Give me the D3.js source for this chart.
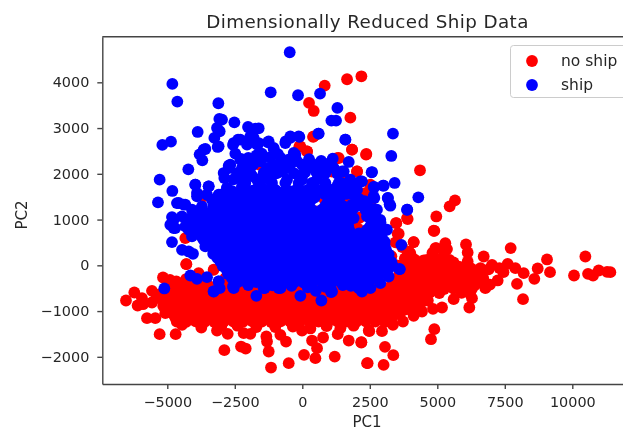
<!DOCTYPE html>
<html lang="en">
<head>
<meta charset="utf-8" />
<title>Dimensionally Reduced Ship Data</title>
<script src="https://d3js.org/d3.v7.min.js"></script>
<style>
html, body { margin: 0; padding: 0; background: #fff; overflow: hidden; }
svg { display: block; font-family: 'DejaVu Sans', sans-serif; filter: blur(0.4px); }
.axis path, .axis line { stroke: #444; stroke-width: 1.4; }
.axis text { font-size: 14.4px; fill: #262626; }
</style>
</head>
<body>
<svg width="623" height="430"></svg>
<script>
// values, [PC1, PC2]
const xTicks = [-5000, -2500, 0, 2500, 5000, 7500, 10000];
const yTicks = [-2000, -1000, 0, 1000, 2000, 3000, 4000];
const seriesNames = ['no ship', 'ship'];
const seriesColors = ['#ff0000', '#0000ff'];

const noShipScattered = [
  [830,3928],[1658,4067],[2189,4132],[250,3549],[423,3374],[1781,3228],[398,2806],[-108,2601],[176,2492],[1843,2529],
  [2362,2419],[1349,2346],[768,2179],[2028,2055],[2399,1581],[4359,2077],[5655,1421],[5458,1289],[4964,1068],[3902,1010],
  [3482,922],[4890,755],[3531,689],[4124,507],[5297,485],[4964,376],[5359,354],[6063,456],[6125,281],[6125,84],
  [7718,376],[6718,193],[9064,128],[10484,193],[7026,11],[7607,33],[7891,-62],[8718,-69],[9175,-149],[10064,-222],
  [10583,-186],[10768,-222],[10978,-113],[11287,-142],[11410,-149],[8200,-171],[8595,-295],[7952,-404],[7236,-331],[8175,-740],
  [6779,-499],[6347,-149],[6285,-718],[6186,-922],[5606,-740],[5174,-922],[4840,-951],[4890,-1396],[4766,-1615],[4433,-1009],
  [4124,-1104],[3729,-1228],[3358,-1301],[2951,-1440],[2481,-1440],[2185,-1687],[3062,-1782],[3371,-1964],[2420,-2139],[3012,-2176],
  [6900,-90],[7300,-60],[7450,-150],[6700,-280],[6950,-420],[6600,-60]
];
const noShipLeft = [
  [-6530,-769],[-6221,-594],[-6098,-878],[-5567,-557],[-5567,-813],[-5937,-718],[-5159,-266],[-4665,-353],[-4295,26],[-5752,-1155],
  [-5443,-1155],[-5283,-1505],[-4690,-1505],[-5073,-1046],[-4455,-1301],[-3739,-1359],[-3158,-1425],[-2763,-1498],[-2887,-1855],[-2269,-1775],
  [-2096,-1819],[-2170,-1483],[-1924,-1498],[-1331,-1556],[-1244,-1884],[-1306,-1666],[-1158,-2234],[-503,-2139],[-602,-1666],[-812,-1520],
  [-10,-1425],[65,-1957],[485,-2030],[547,-1811],[361,-1644],[769,-1578],[1201,-1994],[1312,-1505],[1411,-1374],[1720,-1644],
  [2189,-1680],[2399,-2139],[2461,-1425],[-5900,-850],[-5300,-640],[-4900,-320],[-3000,-1330],[-2400,-1320],[-1700,-1350],[-1000,-1350],
  [-350,-1340],[300,-1380],[900,-1330],[1900,-1320]
];
const noShipBand = [
  [-4900,-450],[-4560,-470],[-4200,-440],[-3850,-460],[-3500,-430],[-3150,-450],[-2800,-440],[-2450,-460],[-2100,-450],[-1750,-440],
  [-1400,-460],[-1050,-450],[-700,-440],[-350,-460],[0,-450],[350,-440],[700,-460],[1050,-450],[1400,-440],[1750,-450],
  [2100,-460],[2450,-440],[2800,-420],[-5250,-630],[-4900,-620],[-4550,-640],[-4200,-610],[-3850,-630],[-3500,-620],[-3150,-640],
  [-2800,-620],[-2450,-630],[-2100,-610],[-1750,-640],[-1400,-620],[-1050,-630],[-700,-610],[-350,-640],[0,-620],[350,-630],
  [700,-610],[1050,-640],[1400,-620],[1750,-630],[2100,-610],[2450,-640],[2800,-620],[3150,-600],[-5100,-800],[-4730,-810],
  [-4380,-790],[-4030,-800],[-3680,-810],[-3330,-790],[-2980,-800],[-2630,-810],[-2280,-790],[-1930,-800],[-1580,-810],[-1230,-790],
  [-880,-800],[-530,-810],[-180,-790],[170,-800],[520,-810],[870,-790],[1220,-800],[1570,-810],[1920,-790],[2270,-800],
  [2620,-810],[2970,-790],[3320,-800],[3670,-790],[-4950,-980],[-4600,-970],[-4250,-990],[-3900,-960],[-3550,-980],[-3200,-970],
  [-2850,-990],[-2500,-960],[-2150,-980],[-1800,-970],[-1450,-990],[-1100,-960],[-750,-980],[-400,-970],[-50,-990],[300,-960],
  [650,-980],[1000,-970],[1350,-990],[1700,-960],[2050,-980],[2400,-970],[2750,-990],[3100,-960],[3450,-980],[3800,-970],
  [-4700,-1150],[-4350,-1160],[-4000,-1140],[-3650,-1170],[-3300,-1150],[-2950,-1160],[-2600,-1140],[-2250,-1170],[-1900,-1150],[-1550,-1160],
  [-1200,-1140],[-850,-1170],[-500,-1150],[-150,-1160],[200,-1140],[550,-1170],[900,-1150],[1250,-1160],[1600,-1140],[1950,-1170],
  [2300,-1150],[2650,-1160],[3000,-1140],[3350,-1120],
  [-5075,-540],[-4725,-545],[-4375,-535],[-4025,-540],[-3675,-550],[-3325,-535],[-2975,-540],[-2625,-545],[-2275,-535],[-1925,-540],
  [-1575,-550],[-1225,-535],[-875,-540],[-525,-545],[-175,-535],[175,-540],[525,-550],[875,-535],[1225,-540],[1575,-545],
  [1925,-535],[2275,-540],[2625,-550],[2975,-535],[-5400,-715],[-5025,-710],[-4725,-720],[-4375,-715],[-4025,-710],[-3675,-720],
  [-3325,-715],[-2975,-710],[-2625,-720],[-2275,-715],[-1925,-710],[-1575,-720],[-1225,-715],[-875,-710],[-525,-720],[-175,-715],
  [175,-710],[525,-720],[875,-715],[1225,-710],[1575,-720],[1925,-715],[2275,-710],[2625,-720],[2975,-715],[3325,-710],
  [-5150,-890],[-4775,-885],[-4425,-895],[-4075,-890],[-3725,-885],[-3375,-895],[-3025,-890],[-2675,-885],[-2325,-895],[-1975,-890],
  [-1625,-885],[-1275,-895],[-925,-890],[-575,-885],[-225,-895],[125,-890],[475,-885],[825,-895],[1175,-890],[1525,-885],
  [1875,-895],[2225,-890],[2575,-885],[2925,-895],[3275,-890],[3625,-885],[-4775,-1065],[-4425,-1060],[-4075,-1070],[-3725,-1065],
  [-3375,-1060],[-3025,-1070],[-2675,-1065],[-2325,-1060],[-1975,-1070],[-1625,-1065],[-1275,-1060],[-925,-1070],[-575,-1065],[-225,-1060],
  [125,-1070],[475,-1065],[825,-1060],[1175,-1070],[1525,-1065],[1875,-1060],[2225,-1070],[2575,-1065],[2925,-1060],[3275,-1070],
  [3600,-1060],[-4650,-1230],[-4300,-1235],[-3950,-1225],[-3600,-1230],[-3250,-1240],[-2900,-1225],[-2550,-1230],[-2200,-1235],[-1850,-1225],
  [-1500,-1230],[-1150,-1240],[-800,-1225],[-450,-1230],[-100,-1235],[250,-1225],[600,-1230],[950,-1240],[1300,-1225],[1650,-1230],
  [2000,-1235],[2350,-1225],[2700,-1230],[3050,-1240]
];
const noShipRight = [
  [3950,300],[4000,266],[4820,270],[5250,290],[3800,150],[4150,130],[4500,110],[4620,120],[4950,150],[5250,140],
  [5450,120],[3720,10],[4050,-10],[4400,20],[4750,-5],[5100,10],[5450,-10],[5800,-30],[3600,-175],[3950,-170],
  [4300,-180],[4650,-165],[5000,-175],[5350,-180],[5700,-170],[6050,-150],[3400,-350],[3750,-340],[4100,-360],[4450,-345],
  [4800,-350],[5150,-340],[5500,-355],[5850,-345],[6200,-350],[6500,-360],[3500,-520],[3850,-530],[4200,-515],[4550,-525],
  [4900,-535],[5250,-520],[5600,-510],[5950,-530],[6280,-520],[3500,-670],[3850,-690],[4200,-680],[4550,-670],[3400,-840],
  [3750,-850],[4100,-830],[4400,-820],[3100,-1060],[3650,-1020],[4000,-960],
  [3850,75],[4250,80],[4600,70],[4950,75],[5300,80],[5600,65],[3800,-85],[4125,-80],[4475,-90],[4825,-85],
  [5175,-80],[5525,-90],[5875,-85],[6250,-70],[3550,-260],[3900,-255],[4225,-265],[4575,-260],[4925,-255],[5275,-265],
  [5625,-260],[5975,-255],[6350,-265],[6600,-220],[3300,-435],[3650,-430],[3975,-440],[4325,-435],[4675,-430],[5025,-440],
  [5375,-435],[5725,-430],[6050,-440],[6380,-435],[3350,-600],[3675,-600],[4025,-605],[4375,-600],[4725,-595],[5075,-605],
  [5900,-600],[6200,-610],[3300,-780],[3650,-775],[4000,-785],[4350,-780],[4650,-770],[3250,-950],[3600,-945],[3950,-955],
  [4250,-950]
];
const noShipBehind = [
  [3472,924],[3879,1033],[3571,690],[4126,508],[4867,756],[4929,377],[3903,231],[4188,-2],[-4296,27],[422,2819],
  [174,2491],[1842,2528],[2373,2433],[-72,2600],[792,2200],[1286,2345],[2027,2054],[2336,1580],[2521,1762],[2521,1325],
  [1965,851],[2120,1040],[2060,800],[1780,1142],[1595,1398],[792,1470],[508,1179],[-3654,1507],[-2296,1616],[-3160,377],[-4333,595],[-3963,814],
  [-3284,-97],[-2851,-279],[-3839,-170],[-3183,354],[-3600,-300],[-4300,-300],[1500,2000],[1100,2050],[2450,1550],[2700,1100],
  [3000,400],[3300,200],[3500,0],[3700,400],[3450,500],[-1600,2200]
];

const shipScattered = [
  [-466,4657],[-4813,3965],[-4628,3578],[-3109,3542],[-1170,3782],[-158,3717],[658,3753],[1300,3440],[1077,3163],[1250,3163],
  [596,2879],[1596,2747],[-2973,3185],[-3072,3200],[-2516,3126],[-3159,3002],[-3875,2915],[-3060,2930],[-3257,2784],[-5184,2631],
  [-4863,2703],[-3134,2587],[-3591,2543],[-3801,2426],[-3702,2295],[-4221,2098],[-5283,1873],[-4813,1625],[-5345,1377],[-2010,3024],
  [-1738,2988],[-1615,2995],[-2380,2747],[-2566,2631],[-2047,2638],[-1677,2638],[-1800,2784],[-1269,2689],[-1059,2543],[-614,2711],
  [-442,2784],[-108,2806],[-318,2456],[-2270,2324],[-2726,2179],[-2887,1909],[-2788,1690],[-2232,2128],[-1578,2288],[-1825,2200],
  [-1059,2200],[-442,2200],[52,2200],[361,2222],[1127,2332],[1720,2259],[-3961,1763],[-3467,1727],[-3900,1508],[-4579,1362],
  [-4332,1326],[3358,2879],[3297,2390],[2568,2033],[3420,1800],[2988,1741],[2642,1712],[2642,1508],[4297,1486],[3173,1471],
  [3235,1333],[3889,1216],[2765,1216],[2210,1836],[-5110,-506],[-4147,-222],[-3900,-295],[-3529,-259],[-3097,-353],[-3282,-572],
  [-3060,-499],[-4826,1054],[-4764,813],[-4888,886],[-4826,507],[-4455,339],[-4048,252],[-4208,303],[3667,448],[3605,-84],
  [3198,-244],[2889,-390],[2519,-499],[2210,-572],[-2541,-499],[-1701,-667],[-1430,-499],[-812,-499],[-71,-667],[707,-769],
  [1102,-572],[2090,-499],[-4642,1361],[-4395,1325],[-4086,1215],[-4765,997],[-4704,814],[-4272,997],[-4210,778],[-3716,1288],
  [-3531,1543],[-3345,1434],[-3098,1543],[-3963,1762],[-3469,1726],[-3901,1580],[-2913,1288],[-3284,-571],[-3098,-352],[-2567,-461],
  [-1394,-498],[-875,-498],[1064,-585],[3608,-82],[3879,1215],[3262,1303],[3163,1470],[2669,1470],[3015,1740],[2669,1711],
  [2583,2039],[1595,2746],[607,2878],[1533,2054],[854,2017],[2150,1835],[1904,1543],[1904,1033],[3136,777],[2889,995]
];
const shipUpper = [
  [-2913,2017],[-2666,2200],[-2296,2309],[-1826,2200],[-1555,2272],[-752,2054],[-11,2200],[1163,2127],[1471,2054],[1842,1580],
  [1286,1726],[545,1872],[-11,1872],[-566,1872],[-1184,1872],[-1678,1872],[-2234,1726],[-2790,1689],[-3037,1543],[-2100,2000],
  [-1400,2020],[-1020,2000],[-300,2010],[100,2030],[500,2060],[-2200,1650],[-1800,1640],[-1400,1660],[-1000,1650],[-600,1640],
  [-200,1660],[200,1650],[600,1640],[1000,1660],[1450,1800],[1700,1750],[2300,1400],[-2700,1480],[-2350,1470],[-2000,1490],
  [-1650,1480],[-1300,1470],[-950,1490],[-600,1480],[-250,1470],[100,1490],[450,1480],[1100,1470],[1400,1490],
  [-2500,1400],[-2150,1395],[-1800,1405],[-1450,1400],[-1100,1395],[-750,1405],[-400,1400],[-50,1395],[300,1405],[950,1400],
  [1250,1395],[-2400,1560],[-1600,1565],[-1200,1555],[-800,1560],[-400,1565],[0,1555],[400,1560],[800,1565],[1200,1555],
  [1650,1560]
];
const shipUpperDense = [
  [-2543,2673],[-2296,2746],[-1925,2819],[-1616,2673],[-1246,2710],[-1060,2564],[-628,2673],[-443,2819],[-134,2819],[-258,2418],
  [-505,2309],[-3098,2600],[-3654,2528],[-2419,2017],[-1925,2017],[-1431,2017],[-937,2017],[51,2017],[545,2017],[-2728,2127],
  [-2110,2127],[-1308,2127],[-566,2127],[175,2127],[669,2127],[-2110,1799],[-1616,1799],[-1122,1799],[-628,1799],[-134,1799],
  [360,1799],[854,1799],[1348,1799],[1842,1799],[-2789,1616],[-1925,1616],[-1431,1616],[-937,1616],[-443,1616],[51,1616],
  [545,1616],[1039,1616],[1533,1616],[-1200,2360],[-800,2350],[-1500,2440],[-900,2430],[-2000,2350],[-1700,2400],[-2480,2440],
  [-700,2240],[-200,2280],[250,2320],[700,2280],[900,2210],[1300,2000],[1780,1871],[1533,1762],[2027,1653],[1657,1580],
  [1224,1434],[1286,1288],[1842,1325],[-3284,1330],[-3000,1400],[-2600,1620],[-2550,1880],[-2200,1880],[-1850,1950],[-1400,1900]
];
const shipCore = [
  [-2950,1300],[-2600,1290],[-2250,1310],[-1900,1300],[-1550,1290],[-1200,1310],[-850,1300],[-500,1290],[-150,1310],[200,1290],
  [850,1300],[1200,1310],[1550,1180],[1850,1290],[-3500,1130],[-3150,1120],[-2800,1140],[-2450,1125],[-2100,1115],[-1750,1135],
  [-1400,1125],[-1050,1115],[-700,1135],[-350,1125],[0,1115],[350,1030],[700,1125],[1050,1115],[1400,1135],[1750,1000],
  [2500,1050],[2700,1150],[-4100,950],[-3750,940],[-3400,960],[-3050,950],[-2700,940],[-2350,960],[-2000,950],[-1650,940],
  [-1300,960],[-950,950],[-600,940],[-250,960],[100,950],[450,940],[800,960],[1150,950],[1500,940],[2650,900],
  [2900,930],[-4050,780],[-3700,770],[-3350,790],[-3000,775],[-2650,765],[-2300,785],[-1950,775],[-1600,765],[-1250,785],
  [-900,775],[-550,765],[-200,785],[150,775],[500,765],[850,785],[1200,775],[1550,765],[2400,780],[2750,770],
  [3000,780],[-3700,600],[-3350,590],[-3000,610],[-2650,600],[-2300,590],[-1950,610],[-1600,600],[-1250,590],[-900,610],
  [-550,600],[-200,590],[150,610],[500,600],[850,590],[1200,610],[1550,600],[1900,600],[2250,610],[2600,595],
  [2950,600],[-3400,425],[-3050,440],[-2700,415],[-2350,430],[-2000,420],[-1650,440],[-1300,425],[-950,415],[-600,435],
  [-250,425],[100,415],[450,435],[800,425],[1150,415],[1500,435],[1850,425],[2200,415],[2550,435],[2900,425],
  [3050,430],[-3300,250],[-2950,240],[-2600,260],[-2250,250],[-1900,240],[-1550,260],[-1200,250],[-850,240],[-500,260],
  [-150,250],[200,240],[550,260],[900,250],[1250,240],[1600,260],[1950,250],[2300,240],[2650,260],[3000,250],
  [3200,240],[-3000,75],[-2650,85],[-2300,65],[-1950,80],[-1600,70],[-1250,90],[-900,75],[-550,65],[-200,85],
  [150,75],[500,65],[850,85],[1200,75],[1550,65],[1900,85],[2250,75],[2600,65],[2950,85],[3300,75],
  [-2800,-100],[-2450,-110],[-2100,-90],[-1750,-105],[-1400,-115],[-1050,-95],[-700,-100],[-350,-110],[0,-90],[350,-105],
  [700,-115],[1050,-95],[1400,-100],[1750,-110],[2100,-90],[2450,-105],[2800,-115],[3150,-95],[-2600,-280],[-2250,-270],
  [-1900,-290],[-1550,-280],[-1200,-270],[-850,-290],[-500,-280],[-150,-270],[200,-290],[550,-280],[900,-270],[1250,-290],
  [1600,-280],[1950,-270],[2300,-290],[2650,-280],[-2000,-430],[-1100,-440],[-400,-450],[200,-480],[500,-560],[850,-470],
  [1500,-430],[1800,-450],[2450,-380]
];
const shipCoreMid = [
  [-3325,1210],[-2775,1205],[-2425,1215],[-2075,1210],[-1725,1205],[-1375,1215],[-1025,1210],[-675,1205],[-325,1215],[25,1210],
  [375,1205],[725,1215],[1025,1210],[1375,1205],[1700,1215],[-3900,1040],[-3575,1045],[-3225,1035],[-2875,1040],[-2525,1045],
  [-2175,1035],[-1825,1040],[-1475,1045],[-1125,1035],[-775,1040],[-425,1045],[-75,1035],[275,1040],[625,1045],[975,1035],
  [1325,1040],[1650,1045],[2700,1035],[-3875,860],[-3525,865],[-3175,855],[-2825,860],[-2475,865],[-2125,855],[-1775,860],
  [-1425,865],[-1075,855],[-725,860],[-375,865],[-25,855],[325,860],[675,865],[1025,855],[1375,860],[1700,865],
  [2525,855],[2875,860],[-3525,690],[-3175,695],[-2825,685],[-2475,690],[-2125,695],[-1775,685],[-1425,690],[-1075,695],
  [-725,685],[-375,690],[-25,695],[325,685],[675,690],[1025,695],[1375,685],[1725,690],[2100,695],[2475,685],
  [2825,690],[-3550,510],[-3200,515],[-2850,505],[-2500,510],[-2150,515],[-1800,505],[-1450,510],[-1100,515],[-750,505],
  [-400,510],[-50,515],[300,505],[650,510],[1000,515],[1350,505],[1700,510],[2050,515],[2400,505],[2750,510],
  [3050,515],[-3150,340],[-2800,335],[-2450,345],[-2100,340],[-1750,335],[-1400,345],[-1050,340],[-700,335],[-350,345],
  [0,340],[350,335],[700,345],[1050,340],[1400,335],[1750,345],[2100,340],[2450,335],[2800,345],[3100,340],
  [-3150,165],[-2800,160],[-2450,170],[-2100,165],[-1750,160],[-1400,170],[-1050,165],[-700,160],[-350,170],[0,165],
  [350,160],[700,170],[1050,165],[1400,160],[1750,170],[2100,165],[2450,160],[2800,170],[3150,165],[-2950,-15],
  [-2600,-20],[-2250,-10],[-1900,-15],[-1550,-20],[-1200,-10],[-850,-15],[-500,-20],[-150,-10],[200,-15],[550,-20],
  [900,-10],[1250,-15],[1600,-20],[1950,-10],[2300,-15],[2650,-20],[3000,-10],[3350,-15],[-2750,-190],[-2400,-185],
  [-2050,-195],[-1700,-190],[-1350,-185],[-1000,-195],[-650,-190],[-300,-185],[50,-195],[400,-190],[750,-185],[1100,-195],
  [1450,-190],[1800,-185],[2150,-195],[2500,-190],[2900,-185],[-2400,-370],[-2050,-375],[-1700,-365],[-1350,-370],[-1000,-375],
  [-650,-365],[-300,-370],[50,-375],[400,-365],[750,-370],[1100,-375],[1450,-365],[1800,-370],[2150,-375]
];
const shipLeftBlock = [
  [-4148,778],[-3654,559],[-4148,1033],[-3778,1215],[-3284,450],[-3592,413],[-3284,268],[-3037,85],[-3345,1142],[-4333,851],
  [-4457,1070],[-4086,632],[-3839,705],[-3654,851],[-3950,1120]
];
const shipRightShoulder = [
  [1533,1288],[1904,1252],[2336,1215],[2706,1215],[2521,851],[2397,1070],[1595,1033],[1595,814],[2027,632],[2350,620],
  [1530,620],[1750,760],[2250,700],[2550,1230],[2400,1330],[2100,1450],[2050,1300]
];

const noShip = [...noShipScattered, ...noShipLeft, ...noShipBand, ...noShipRight, ...noShipBehind];
const ship = [...shipScattered, ...shipUpper, ...shipUpperDense, ...shipCore, ...shipCoreMid, ...shipLeftBlock, ...shipRightShoulder];

const svg = d3.select('svg');
const x = d3.scaleLinear().domain([-7407, 12300]).range([102.3, 634.4]);
const y = d3.scaleLinear().domain([-2594, 4997]).range([384, 36.7]);
const r = 5.9;

svg.selectAll('.noship').data(noShip).enter().append('circle')
  .attr('class', 'noship')
  .attr('cx', d => x(d[0])).attr('cy', d => y(d[1])).attr('r', r)
  .attr('fill', seriesColors[0]);

svg.selectAll('.ship').data(ship).enter().append('circle')
  .attr('class', 'ship')
  .attr('cx', d => x(d[0])).attr('cy', d => y(d[1])).attr('r', r)
  .attr('fill', seriesColors[1]);

const minus = d => String(d).replace('-', '\u2212');

svg.append('g').attr('class', 'axis')
  .attr('transform', 'translate(0,384)')
  .call(d3.axisBottom(x).tickValues(xTicks).tickFormat(minus).tickSize(5).tickSizeOuter(0).tickPadding(8));

svg.append('g').attr('class', 'axis')
  .attr('transform', 'translate(102.3,0)')
  .call(d3.axisLeft(y).tickValues(yTicks).tickFormat(minus).tickSize(5).tickSizeOuter(0).tickPadding(8));

svg.selectAll('.axis').attr('font-family', null).attr('font-size', null);

// top spine, the right one falls outside the crop
svg.append('line')
  .attr('x1', 102.3).attr('x2', 623).attr('y1', 36.7).attr('y2', 36.7)
  .attr('stroke', '#444').attr('stroke-width', 1.4);

svg.append('text').attr('x', 367.5).attr('y', 28).attr('text-anchor', 'middle')
  .attr('font-size', 18.3).attr('letter-spacing', 0.42).attr('fill', '#262626').text('Dimensionally Reduced Ship Data');
svg.append('text').attr('x', 367).attr('y', 426.5).attr('text-anchor', 'middle')
  .attr('font-size', 15).attr('fill', '#262626').text('PC1');
svg.append('text').attr('transform', 'translate(27,215) rotate(-90)').attr('text-anchor', 'middle')
  .attr('font-size', 15).attr('fill', '#262626').text('PC2');

// legend
const legend = svg.append('g');
legend.append('rect')
  .attr('x', 510.5).attr('y', 45.5).attr('width', 130).attr('height', 52).attr('rx', 3)
  .attr('fill', '#fff').attr('fill-opacity', 0.8).attr('stroke', '#ccc');
seriesNames.forEach((name, i) => {
  legend.append('circle').attr('cx', 532).attr('cy', 61 + i * 24).attr('r', r).attr('fill', seriesColors[i]);
  legend.append('text').attr('x', 561).attr('y', 65.5 + i * 24)
    .attr('font-size', 15.5).attr('fill', '#262626').text(name);
});
</script>
</body>
</html>
